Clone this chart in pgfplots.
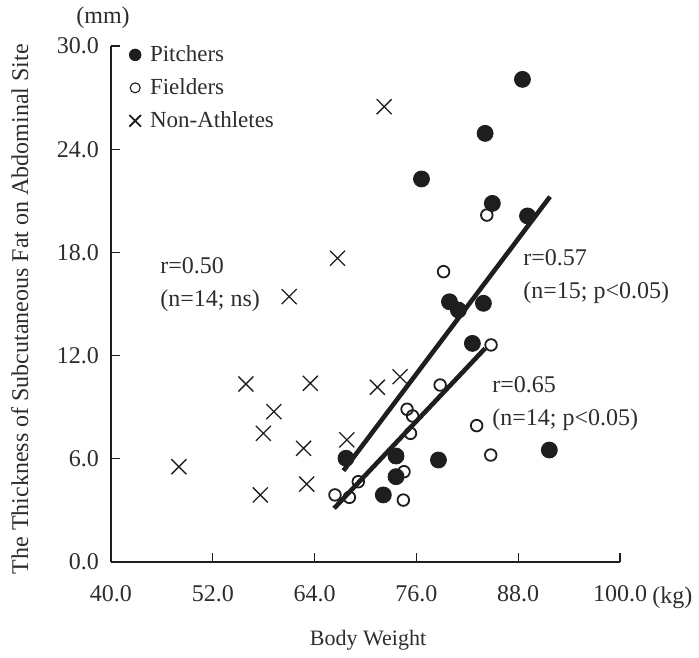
\documentclass[border=0pt]{standalone}
\usepackage{fontspec}
\setmainfont{Liberation Serif}
\usepackage{pgfplots}
\pgfplotsset{compat=1.18}
\definecolor{ink}{RGB}{30,30,30}
\definecolor{txt}{RGB}{45,45,45}
\pgfplotsset{dotlegend/.style={legend image code/.code={\draw[##1] plot coordinates {(0pt,0pt)};}}}

\pgfplotstableread{
x y
88.5 28.06
84.1 24.92
76.6 22.27
84.95 20.85
89.1 20.12
79.9 15.13
80.95 14.65
83.9 15.04
82.6 12.71
91.67 6.51
78.6 5.93
67.7 6.03
73.6 6.16
73.6 4.96
72.1 3.90
}\pitchers

\pgfplotstableread{
x y
84.3 20.17
79.2 16.88
84.8 12.62
78.8 10.29
83.1 7.93
84.76 6.22
74.9 8.88
75.55 8.49
75.3 7.48
74.54 5.25
74.46 3.60
69.15 4.67
66.4 3.90
68.1 3.76
}\fielders

\pgfplotstableread{
x y
66.7 17.66
61.0 15.43
55.9 10.35
63.5 10.39
59.2 8.74
57.96 7.48
62.7 6.61
67.8 7.10
48.0 5.54
57.6 3.90
63.07 4.53
72.2 26.47
71.4 10.16
74.07 10.77
}\nonath

\begin{document}
\begin{tikzpicture}
\begin{axis}[
  name=ax,
  scale only axis, width=254.5pt, height=258pt,
  xmin=40, xmax=100, ymin=0, ymax=30,
  axis x line*=bottom, axis y line*=left,
  axis line style={draw=ink, line width=0.65pt, -},
  xtick={40,52,...,100}, ytick={0,6,...,30},
  tick align=inside, major tick length=4.5pt,
  tick style={draw=ink, line width=0.6pt},
  ticklabel style={font=\fontsize{12}{14}\selectfont, text=txt},
  x tick label style={yshift=-8pt},
  y tick label style={xshift=-2.5pt},
  /pgf/number format/fixed,
  /pgf/number format/fixed zerofill,
  /pgf/number format/precision=1,
  /pgf/number format/assume math mode=true,
  xlabel={Body Weight},
  xlabel style={font=\fontsize{11}{13}\selectfont, text=txt,
    at={(axis description cs:0.505,-0.152)}, anchor=center},
  ylabel={The Thickness of Subcutaneous Fat on Abdominal Site},
  ylabel style={font=\fontsize{12}{14}\selectfont, text=txt,
    at={(axis description cs:-0.179,0.49)}, anchor=center, rotate=0},
  legend style={at={(rel axis cs:0,1)}, anchor=north west, draw=none, fill=none,
    xshift=6pt, yshift=4.5pt,
    font=\fontsize{11.5}{13}\selectfont, text=txt, row sep=3pt,
    /tikz/every odd column/.append style={column sep=2.5pt}},
  legend cell align=left,
  clip=false,
]
\addplot[only marks, mark=*, mark size=4pt, draw=ink, fill=ink, dotlegend,
  legend image post style={mark size=2.9pt}]
  table {\pitchers};
\addlegendentry{Pitchers}
\addplot[only marks, mark=o, mark size=2.9pt, draw=ink, line width=0.9pt, dotlegend,
  legend image post style={mark size=2.5pt, line width=0.55pt}]
  table {\fielders};
\addlegendentry{Fielders}
\addplot[only marks, mark=x, mark size=5.3pt, draw=ink, line width=0.65pt, dotlegend,
  legend image post style={mark size=4.1pt, line width=0.95pt}]
  table {\nonath};
\addlegendentry{Non-Athletes}

% regression lines
\addplot[forget plot, draw=ink, line width=2.3pt] coordinates {(67.4,5.31) (91.75,21.24)};
\addplot[forget plot, draw=ink, line width=2.3pt] coordinates {(66.3,3.12) (84.1,12.42)};

\node[anchor=west, align=left, inner sep=0pt, text=txt,
  font=\fontsize{12}{16.5}\selectfont] at (axis cs:45.78,16.13) {r=0.50\\(n=14; ns)};
\node[anchor=west, align=left, inner sep=0pt, text=txt,
  font=\fontsize{12}{16.5}\selectfont] at (axis cs:88.57,16.6) {r=0.57\\(n=15; p<0.05)};
\node[anchor=west, align=left, inner sep=0pt, text=txt,
  font=\fontsize{12}{16.5}\selectfont] at (axis cs:84.91,9.22) {r=0.65\\(n=14; p<0.05)};

\node[font=\fontsize{12}{14}\selectfont, text=txt, anchor=center]
  at (axis description cs:-0.0157,1.054) {(mm)};
\node[font=\fontsize{12}{14}\selectfont, text=txt, anchor=base west, inner sep=0pt]
  at (axis description cs:1.063,-0.0795) {(kg)};
\end{axis}
\path (ax.south west) ++(-55.5pt,-45pt) rectangle ++(349.5pt,326pt);
\end{tikzpicture}
\end{document}
